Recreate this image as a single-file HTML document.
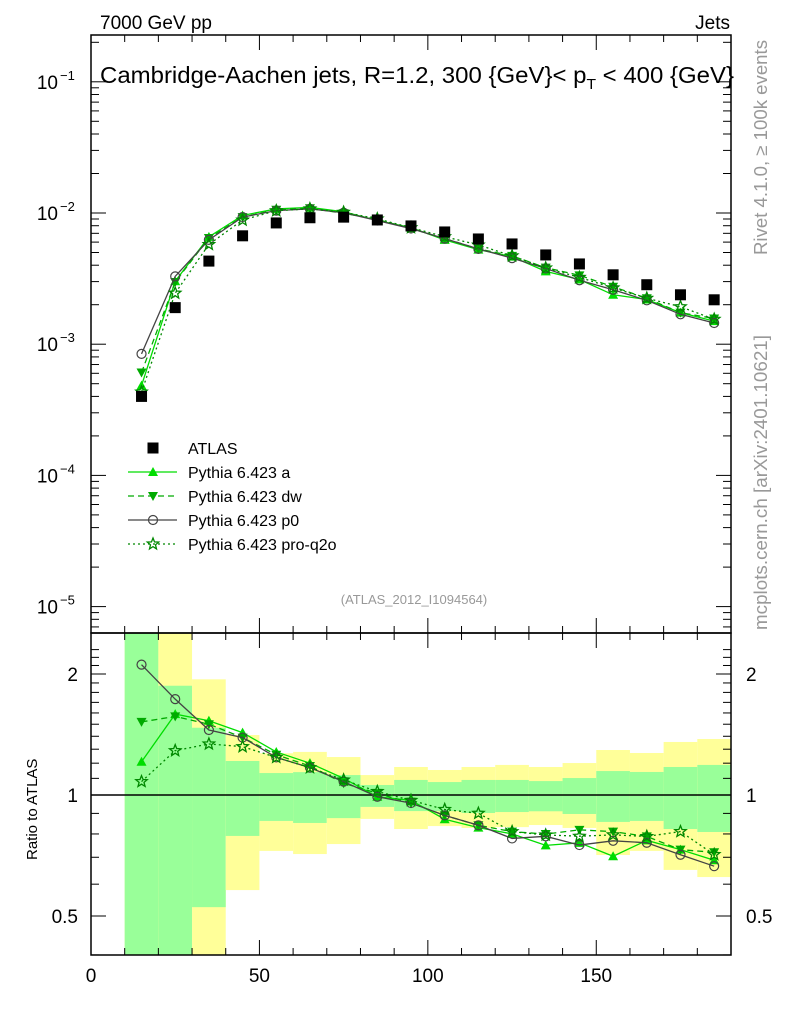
<!DOCTYPE html>
<html><head><meta charset="utf-8">
<style>
html,body{margin:0;padding:0;background:#fff;}
svg{display:block;font-family:"Liberation Sans",sans-serif;}
</style></head>
<body>
<svg id="chart" width="786" height="1024" viewBox="0 0 786 1024" xmlns="http://www.w3.org/2000/svg">
<g id="bands"></g>
<g id="marks"></g>
<g id="axes"></g>
<text x="100" y="29" font-size="19">7000 GeV pp</text>
<text x="730" y="29" font-size="19" text-anchor="end">Jets</text>
<text x="100" y="83" font-size="23" textLength="634" lengthAdjust="spacingAndGlyphs">Cambridge-Aachen jets, R=1.2, 300 {GeV}&lt; p<tspan font-size="15" dy="6">T</tspan><tspan dy="-6"> &lt; 400 {GeV}</tspan></text>
<text transform="translate(767,255) rotate(-90)" font-size="18" fill="#999" textLength="215" lengthAdjust="spacingAndGlyphs">Rivet 4.1.0, ≥ 100k events</text>
<text transform="translate(767,630) rotate(-90)" font-size="18" fill="#999" textLength="295" lengthAdjust="spacingAndGlyphs">mcplots.cern.ch [arXiv:2401.10621]</text>
<text x="414" y="604" font-size="13" fill="#999" text-anchor="middle">(ATLAS_2012_I1094564)</text>
<text transform="translate(37,860) rotate(-90)" font-size="15">Ratio to ATLAS</text>
<g id="legend"></g>
</svg>
<script>
const xs = [15,25,35,45,55,65,75,85,95,105,115,125,135,145,155,165,175,185];
const atlas = [4.0e-4,1.9e-3,4.3e-3,6.7e-3,8.4e-3,9.2e-3,9.3e-3,8.85e-3,7.97e-3,7.17e-3,6.34e-3,5.81e-3,4.79e-3,4.09e-3,3.38e-3,2.84e-3,2.38e-3,2.18e-3];
const pyA = [4.84e-4,3.02e-3,6.58e-3,9.58e-3,1.075e-2,1.104e-2,1.023e-2,8.76e-3,7.73e-3,6.24e-3,5.26e-3,4.65e-3,3.59e-3,3.11e-3,2.38e-3,2.19e-3,1.74e-3,1.50e-3];
const pyDW = [6.08e-4,2.98e-3,6.45e-3,9.31e-3,1.058e-2,1.086e-2,9.95e-3,8.94e-3,7.61e-3,6.38e-3,5.33e-3,4.71e-3,3.83e-3,3.35e-3,2.74e-3,2.24e-3,1.74e-3,1.57e-3];
const pyP0 = [8.44e-4,3.29e-3,6.24e-3,9.31e-3,1.042e-2,1.076e-2,1.004e-2,8.76e-3,7.61e-3,6.38e-3,5.33e-3,4.53e-3,3.78e-3,3.07e-3,2.60e-3,2.16e-3,1.69e-3,1.45e-3];
const pyQ2O = [4.32e-4,2.45e-3,5.76e-3,8.84e-3,1.042e-2,1.076e-2,1.014e-2,9.03e-3,7.73e-3,6.60e-3,5.71e-3,4.71e-3,3.81e-3,3.23e-3,2.69e-3,2.24e-3,1.93e-3,1.55e-3];
const binLo = [10,20,30,40,50,60,70,80,90,100,110,120,130,140,150,160,170,180];
const binHi = [20,30,40,50,60,70,80,90,100,110,120,130,140,150,160,170,180,190];
const statHi = [3,1.87,1.47,1.215,1.134,1.14,1.121,1.059,1.09,1.077,1.09,1.09,1.083,1.102,1.147,1.141,1.174,1.188];
const statLo = [0.3,0.3,0.526,0.791,0.862,0.852,0.876,0.934,0.912,0.912,0.902,0.907,0.911,0.897,0.857,0.862,0.823,0.809];
const totHi = [3,3,1.94,1.41,1.27,1.28,1.243,1.121,1.174,1.154,1.174,1.188,1.174,1.201,1.294,1.272,1.355,1.378];
const totLo = [0.3,0.3,0.3,0.58,0.726,0.713,0.755,0.872,0.823,0.837,0.828,0.832,0.842,0.828,0.709,0.726,0.651,0.625];
const xTicks = [0,50,100,150];
const ratioTicks = [2,1,0.5];
const ratioTickLabels = ["2","1","0.5"];

const NS="http://www.w3.org/2000/svg";
const L=91,R=731,T=35,MB=633,RB=955;
const X=v=>L+(v/190)*(R-L);
const Y=v=>213-(Math.log10(v)+2)*131.2;
const RY=v=>795-Math.log10(v)/Math.log10(2)*121;
function el(tag,attrs,parent){const e=document.createElementNS(NS,tag);for(const k in attrs)e.setAttribute(k,attrs[k]);parent.appendChild(e);return e;}
const bands=document.getElementById('bands'),marks=document.getElementById('marks'),axes=document.getElementById('axes'),legend=document.getElementById('legend');
const clip=v=>Math.max(0.3,Math.min(3,v));
for(let i=0;i<binLo.length;i++){
  let r=el('rect',{x:X(binLo[i]),width:X(binHi[i])-X(binLo[i]),y:Math.max(MB,RY(clip(totHi[i]))),fill:'#ffff99'},bands);
  r.setAttribute('height',Math.min(RB,RY(clip(totLo[i])))-Math.max(MB,RY(clip(totHi[i]))));
  
  
  let g=el('rect',{x:X(binLo[i]),width:X(binHi[i])-X(binLo[i]),y:Math.max(MB,RY(clip(statHi[i]))),fill:'#99ff99'},bands);
  g.setAttribute('height',Math.min(RB,RY(clip(statLo[i])))-Math.max(MB,RY(clip(statHi[i]))));
  
  
}
let one=el('line',{x1:L,x2:R,y1:RY(1),y2:RY(1),stroke:'#000','stroke-width':1.5},marks);



function marker(type,x,y,color,parent){
  let m;
  if(type==='up')m=el('polygon',{points:`${x},${y-5} ${x-5},${y+4} ${x+5},${y+4}`,fill:color},parent);
  else if(type==='down')m=el('polygon',{points:`${x},${y+5} ${x-5},${y-4} ${x+5},${y-4}`,fill:color},parent);
  else if(type==='circle')m=el('circle',{cx:x,cy:y,r:4.5,fill:'none',stroke:color,'stroke-width':1.2},parent);
  else if(type==='star'){let p=[];for(let k=0;k<10;k++){const a=-Math.PI/2+k*Math.PI/5,rr=k%2?2.6:6;p.push((x+rr*Math.cos(a)).toFixed(1)+','+(y+rr*Math.sin(a)).toFixed(1));}
    m=el('polygon',{points:p.join(' '),fill:'none',stroke:color,'stroke-width':1.3},parent);}
  else if(type==='square')m=el('rect',{x:x-5.5,y:y-5.5,width:11,height:11,fill:color},parent);
  return m;
}
const series=[
 {name:'pythia-a',data:pyA,color:'#00dd00',dash:'',m:'up'},
 {name:'pythia-dw',data:pyDW,color:'#00aa00',dash:'6,4',m:'down'},
 {name:'pythia-p0',data:pyP0,color:'#444444',dash:'',m:'circle'},
 {name:'pythia-pro-q2o',data:pyQ2O,color:'#008800',dash:'2,3',m:'star'}];
for(const s of series){
  let pts=xs.map((x,i)=>X(x)+','+Y(s.data[i])).join(' ');
  let pl=el('polyline',{points:pts,fill:'none',stroke:s.color,'stroke-width':1.3,'stroke-dasharray':s.dash},marks);
  
  
  let rp=xs.map((x,i)=>X(x)+','+RY(s.data[i]/atlas[i])).join(' ');
  let rl=el('polyline',{points:rp,fill:'none',stroke:s.color,'stroke-width':1.3,'stroke-dasharray':s.dash},marks);
  
  
  xs.forEach((x,i)=>{
    let m=marker(s.m,X(x),Y(s.data[i]),s.color,marks);
    
    
    let m2=marker(s.m,X(x),RY(s.data[i]/atlas[i]),s.color,marks);
    
    
  });
}
xs.forEach((x,i)=>{
  let m=marker('square',X(x),Y(atlas[i]),'#000',marks);
  
  
});
for(const [t,b] of [[T,MB],[MB,RB]]){
  let f=el('rect',{x:L,y:t,width:R-L,height:b-t,fill:'none',stroke:'#000','stroke-width':1.5},axes);
  
  
  for(let v=0;v<=190;v+=10){
    const big=v%50===0,len=big?15:7;
    el('line',{x1:X(v),x2:X(v),y1:b,y2:b-len,stroke:'#000'},axes);
    el('line',{x1:X(v),x2:X(v),y1:t,y2:t+len,stroke:'#000'},axes);
  }
}
xTicks.forEach(v=>{
  let t=el('text',{x:X(v),y:982,'font-size':19,'text-anchor':'middle'},axes);
  t.textContent=v;
  
  
});
for(let d=-6;d<=-1;d++){
  for(let k=1;k<=9;k++){
    const v=k*Math.pow(10,d),y=Y(v);
    if(y<T||y>MB)continue;
    const len=k===1?15:8;
    el('line',{x1:L,x2:L+len,y1:y,y2:y,stroke:'#000'},axes);
    el('line',{x1:R,x2:R-len,y1:y,y2:y,stroke:'#000'},axes);
  }
  const y=Y(Math.pow(10,d));
  if(y>=T&&y<=MB){
    let t=el('text',{x:58,y:y+7,'font-size':19,'text-anchor':'end'},axes);
    t.textContent='10';
    let s=el('tspan',{x:60,dy:-9,'font-size':13,'text-anchor':'start'},t);
    s.textContent='−'+(-d);
    
    
  }
}
for(let v=0.4;v<=2.4;v+=0.1){
  const y=RY(v);if(y<MB||y>RB)continue;
  const big=Math.abs(v-1)<1e-6||Math.abs(v-2)<1e-6||Math.abs(v-0.5)<1e-6;
  el('line',{x1:L,x2:L+(big?15:8),y1:y,y2:y,stroke:'#000'},axes);
  el('line',{x1:R,x2:R-(big?15:8),y1:y,y2:y,stroke:'#000'},axes);
}
ratioTicks.forEach((v,i)=>{
  let t=el('text',{x:78,y:RY(v)+7,'font-size':19,'text-anchor':'end'},axes);
  t.textContent=ratioTickLabels[i];
  
  
  let t2=el('text',{x:746,y:RY(v)+7,'font-size':19},axes);
  t2.textContent=ratioTickLabels[i];
  
  
});
const legItems=[{label:'ATLAS',m:'square',color:'#000',dash:null},...series.map((s,i)=>({label:['Pythia 6.423 a','Pythia 6.423 dw','Pythia 6.423 p0','Pythia 6.423 pro-q2o'][i],m:s.m,color:s.color,dash:s.dash}))];
legItems.forEach((it,i)=>{
  const y=448+i*24;
  const g=el('g',{},legend);
  
  
  if(it.dash!==null)el('line',{x1:128,x2:177,y1:y,y2:y,stroke:it.color,'stroke-width':1.3,'stroke-dasharray':it.dash},g);
  marker(it.m,153,y,it.color,g);
  let t=el('text',{x:188,y:y+6,'font-size':16},g);
  t.textContent=it.label;
});
</script>
</body></html>
